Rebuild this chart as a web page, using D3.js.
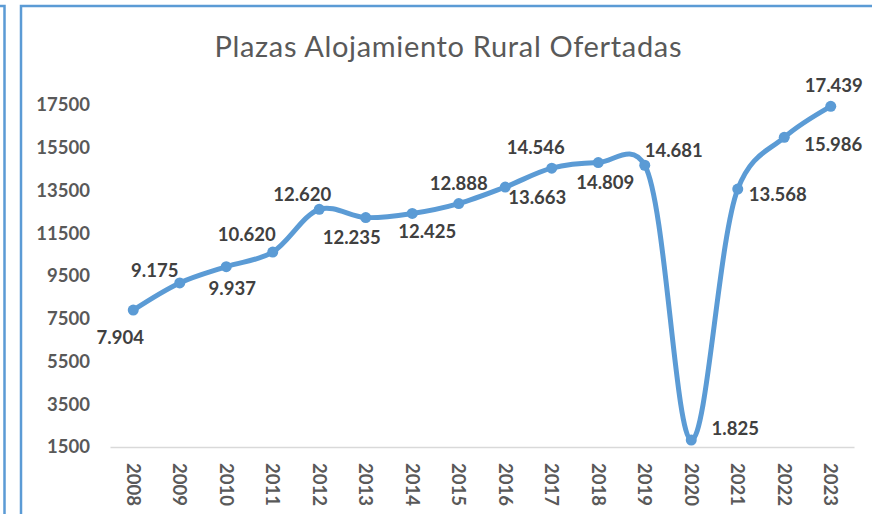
<!DOCTYPE html>
<html>
<head>
<meta charset="utf-8">
<script src="https://cdn.jsdelivr.net/npm/d3@7"></script>
<style>
  body { margin: 0; background: #fff; }
  svg { display: block; }
  text { font-family: Lato, "Open Sans", sans-serif; }
</style>
</head>
<body>
<div id="chart"></div>
<script>
// chart data
var years  = ["2008","2009","2010","2011","2012","2013","2014","2015",
              "2016","2017","2018","2019","2020","2021","2022","2023"];
var plazas = [7904, 9175, 9937, 10620, 12620, 12235, 12425, 12888,
              13663, 14546, 14809, 14681, 1825, 13568, 15986, 17439];
var labels = ["7.904","9.175","9.937","10.620","12.620","12.235","12.425","12.888",
              "13.663","14.546","14.809","14.681","1.825","13.568","15.986","17.439"];
var yTicks = [1500, 3500, 5500, 7500, 9500, 11500, 13500, 15500, 17500];
var title  = "Plazas Alojamiento Rural Ofertadas";

// where each data label sits relative to its point (moved by hand in the original)
var labelOffsets = [[-13,27],[-25,-12],[6,22],[-26,-18],[-17,-15],[-14,20],[15,18],[0,-20],
                    [32,11],[-16,-21],[7,20],[29,-15],[44,-12],[40,5],[49,7],[3,-21]];

var width = 872, height = 514;
var blue = "#5B9BD5";

var svg = d3.select("#chart")
  .append("svg")
    .attr("width", width)
    .attr("height", height);

// frame lines of the two boxes
svg.append("path")
  .attr("d", "M0,6H4.5V514")
  .attr("fill", "none")
  .attr("stroke", blue)
  .attr("stroke-width", 2.5);
svg.append("path")
  .attr("d", "M21,514V6H872")
  .attr("fill", "none")
  .attr("stroke", blue)
  .attr("stroke-width", 2.5);

// title
svg.append("text")
  .attr("x", 448)
  .attr("y", 57)
  .attr("text-anchor", "middle")
  .attr("textLength", 467)
  .attr("lengthAdjust", "spacing")
  .style("font-size", "29px")
  .style("fill", "#595959")
  .text(title);

// scales
var x = d3.scaleBand()
  .domain(years)
  .range([110, 854]);
var y = d3.scaleLinear()
  .domain([1500, 17500])
  .range([447, 105]);
function cx(i) { return x(years[i]) + x.bandwidth() / 2; }

// y axis
var yAxis = svg.append("g")
  .attr("transform", "translate(110,0)")
  .call(d3.axisLeft(y).tickValues(yTicks).tickSize(0).tickPadding(20).tickFormat(d3.format("d")));
yAxis.select(".domain").remove();
yAxis.selectAll("text")
  .style("font-size", "18.5px")
  .style("font-weight", "bold")
  .style("fill", "#595959");

// x axis
var xAxis = svg.append("g")
  .attr("transform", "translate(0,447)")
  .call(d3.axisBottom(x).tickSize(0));
xAxis.select(".domain")
  .attr("stroke", "#d9d9d9")
  .attr("stroke-width", 1.3);
xAxis.selectAll("text")
  .attr("transform", "rotate(90)")
  .attr("x", 16)
  .attr("y", 0)
  .attr("dy", "0.35em")
  .attr("text-anchor", "start")
  .style("font-size", "18.5px")
  .style("font-weight", "bold")
  .style("fill", "#595959");

// smoothed line
var line = d3.line()
  .x(function(d, i) { return cx(i); })
  .y(function(d) { return y(d); })
  .curve(d3.curveCatmullRom.alpha(0.25));

svg.append("path")
  .datum(plazas)
  .attr("d", line)
  .attr("fill", "none")
  .attr("stroke", blue)
  .attr("stroke-width", 5)
  .attr("stroke-linecap", "round")
  .attr("stroke-linejoin", "round");

// markers
svg.selectAll(".dot")
  .data(plazas)
  .enter()
  .append("circle")
    .attr("class", "dot")
    .attr("cx", function(d, i) { return cx(i); })
    .attr("cy", function(d) { return y(d); })
    .attr("r", 5.5)
    .style("fill", blue);

// data labels
svg.selectAll(".lbl")
  .data(plazas)
  .enter()
  .append("text")
    .attr("class", "lbl")
    .attr("x", function(d, i) { return cx(i) + labelOffsets[i][0]; })
    .attr("y", function(d, i) { return y(d) + labelOffsets[i][1]; })
    .attr("dy", "0.35em")
    .attr("text-anchor", "middle")
    .style("font-size", "18.5px")
    .style("font-weight", "bold")
    .style("fill", "#404040")
    .text(function(d, i) { return labels[i]; });
</script>
</body>
</html>
